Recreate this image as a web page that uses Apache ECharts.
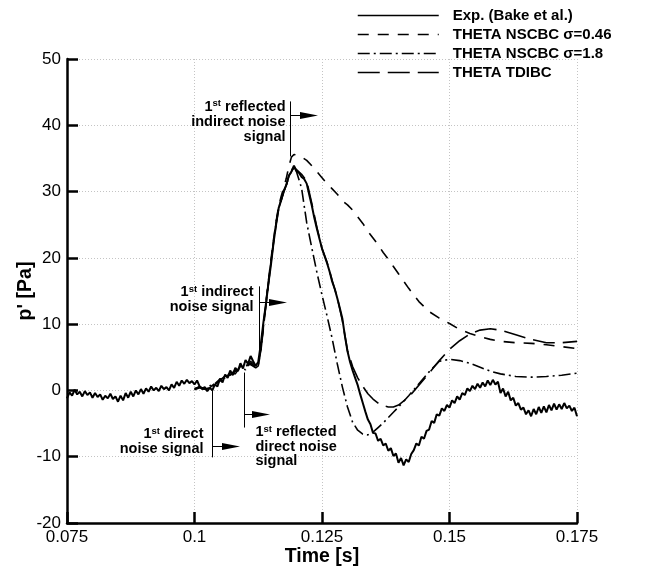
<!DOCTYPE html>
<html><head><meta charset="utf-8">
<script src="https://cdn.jsdelivr.net/npm/echarts@6/dist/echarts.min.js"></script>
<style>html,body{margin:0;padding:0;background:#fff}#c{width:646px;height:574px}</style>
</head><body><div id="c"></div>
<script>
const seriesNames = ['Exp. (Bake et al.)', 'THETA NSCBC σ=0.46', 'THETA NSCBC σ=1.8', 'THETA TDIBC'];

// Experiment: uniformly sampled from 0.075 s every 0.0005 s
const expStart = 0.075, expStep = 0.0005;
const expValues = [
 -1.2,-0.3,-0.8,0.1,-0.6,-0.2,-0.9,-0.1,-0.7,-0.3,
 -1.1,-0.4,-1.0,-0.6,-1.4,-0.8,-1.2,-0.5,-1.3,-0.9,
 -1.7,-0.8,-1.5,-0.4,-1.1,-0.2,-0.9,0.0,-0.6,0.2,
 -0.5,0.3,-0.2,0.6,0.0,0.4,-0.1,0.7,0.2,0.5,
 0.0,0.9,0.4,1.3,0.7,1.5,1.0,1.6,1.1,1.4,
 0.9,1.5,0.6,0.2,0.5,-0.1,0.4,0.0,0.9,0.6,
 1.8,1.2,2.4,1.9,3.0,2.3,3.4,2.9,4.1,3.3,
 4.6,4.0,5.2,4.4,3.7,4.3,7.0,10.2,13.0,16.2,
 19.0,22.3,25.0,27.5,28.7,30.1,31.0,32.4,33.0,33.9,
 33.1,32.8,32.2,31.9,31.2,29.5,27.9,26.0,24.4,22.9,
 21.4,20.3,19.2,17.9,16.4,15.3,13.9,12.4,10.8,8.2,
 5.9,4.3,3.0,1.9,0.8,-0.6,-1.9,-3.2,-4.4,-5.1,
 -6.4,-6.5,-7.6,-7.3,-8.3,-8.0,-9.1,-8.7,-9.9,-9.5,
 -10.9,-10.2,-11.3,-10.4,-10.8,-9.6,-9.0,-8.0,-8.3,-7.0,
 -7.3,-6.1,-5.9,-4.6,-4.9,-3.6,-3.8,-2.7,-3.1,-2.2,
 -2.6,-1.5,-1.9,-0.9,-1.4,-0.4,-0.7,0.3,-0.1,0.7,
 0.2,1.0,0.4,1.2,0.6,1.5,0.8,1.6,0.9,1.3,
 -0.4,0.3,-0.9,-0.2,-1.5,-1.1,-2.3,-1.9,-2.9,-2.6,
 -3.6,-3.0,-3.9,-2.8,-3.6,-2.5,-3.4,-2.4,-3.3,-2.2,
 -3.0,-2.0,-2.9,-2.1,-2.8,-1.9,-2.7,-2.3,-3.1,-2.6,
 -3.9
];

const simTime = [0.100,0.101,0.102,0.103,0.104,0.105,0.106,0.107,0.108,0.109,0.110,0.111,0.112,
 0.1125,0.113,0.1135,0.114,0.1145,0.115,0.1155,0.116,0.1165,0.117,0.1175,
 0.118,0.1185,0.119,0.1195,0.120,
 0.121,0.122,0.123,0.124,0.125,0.126,0.127,0.128,0.129,0.130,0.131,0.132,0.133,0.134,0.135,0.136,0.137,0.138,0.139,0.140,
 0.142,0.144,0.146,0.148,0.150,0.152,0.154,0.156,0.158,0.160,
 0.163,0.166,0.169,0.172,0.175];

const nscbc046 = [0.2,0.6,0.1,0.5,0.9,1.4,2.1,2.4,2.9,3.3,3.6,4.1,3.5,
 3.9,6.2,9.8,13.3,16.6,19.8,22.8,25.5,27.8,29.3,30.6,
 32.0,33.8,35.2,35.6,35.5,
 35.2,34.7,33.9,33.0,32.1,31.2,30.4,29.6,28.6,28.0,27.2,26.2,25.2,24.0,23.0,22.0,20.8,19.8,18.7,17.6,
 15.4,13.4,11.9,10.9,10.1,9.2,8.6,8.1,7.7,7.4,
 7.2,7.1,6.9,6.6,6.3];

const nscbc18 = [0.3,0.5,0.3,0.7,1.0,1.7,1.9,2.7,2.5,3.6,3.1,4.4,3.7,
 3.8,6.0,9.5,13.0,16.3,19.5,22.5,25.3,27.5,28.8,30.0,
 31.0,32.3,33.2,33.7,33.0,
 30.5,25.3,21.5,17.8,14.4,11.2,7.8,4.0,0.5,-2.5,-4.8,-6.0,-6.6,-6.7,-6.3,-5.6,-4.9,-4.1,-3.3,-2.5,
 -0.8,1.0,2.8,4.4,4.7,4.5,4.1,3.5,2.9,2.5,
 2.1,2.0,2.1,2.3,2.6];

const tdibc = [0.1,0.4,0.2,0.4,1.1,1.5,2.2,2.3,3.1,3.2,3.8,3.9,3.4,
 3.7,5.8,9.3,12.8,16.1,19.3,22.3,25.1,27.4,28.7,29.9,
 31.0,32.2,33.0,33.6,33.3,
 32.6,31.6,28.2,24.6,21.4,19.3,16.6,14.0,10.5,6.0,3.6,1.9,0.6,-0.5,-1.3,-1.9,-2.3,-2.5,-2.5,-2.2,
 -1.0,0.8,2.6,4.5,6.2,7.5,8.5,9.1,9.3,9.1,
 8.4,7.7,7.2,7.2,7.4];

// annotation anchors (data coordinates)
const annotations = [
 {t:0.11873, yTop:43.6, yBottom:35.3, yArrow:41.5, tArrow:0.12422, yText:42.8, side:'right', dx:-5, lh:15,
  lines:['1{s|st} reflected','indirect noise','signal']},
 {t:0.11265, yTop:15.7, yBottom:4.7, yArrow:13.4, tArrow:0.11814, yText:14.8, side:'right', dx:-6, lh:15,
  lines:['1{s|st} indirect','noise signal']},
 {t:0.10343, yTop:0.15, yBottom:-10.1, yArrow:-8.45, tArrow:0.10892, yText:-6.6, side:'right', dx:-9, lh:14.5,
  lines:['1{s|st} direct','noise signal']},
 {t:0.1097, yTop:2.7, yBottom:-5.6, yArrow:-3.6, tArrow:0.1148, yText:-6.3, side:'left', dx:11, lh:14.5,
  lines:['1{s|st} reflected','direct noise','signal']}
];

const FONT = '"Liberation Sans", Arial, Helvetica, sans-serif';
const expTime = expValues.map((_, i) => +(expStart + i * expStep).toFixed(4));
const pairs = (xs, ys) => ys.map((v, i) => [xs[i], v]);

const chart = echarts.init(document.getElementById('c'), null, {renderer: 'canvas'});
const axisCommon = {
  type: 'value',
  nameLocation: 'middle',
  nameMoveOverlap: false,
  nameTextStyle: {fontSize: 19.5, fontWeight: 'bold', color: '#000', fontFamily: FONT},
  axisLine: {show: true, onZero: false, lineStyle: {color: '#000', width: 2.5}},
  axisTick: {show: true, inside: true, length: 11, lineStyle: {color: '#000', width: 2.5}},
  splitLine: {show: true, lineStyle: {color: '#c4c4c4', width: 1, type: [1, 2]}},
  minorTick: {show: false}
};
chart.setOption({
  animation: false,
  backgroundColor: '#fff',
  grid: {left: 67, right: 69, top: 59, bottom: 51, containLabel: false, outerBoundsMode: 'none'},
  xAxis: Object.assign({}, axisCommon, {
    min: 0.075, max: 0.175, interval: 0.025, name: 'Time [s]', nameGap: 24,
    axisLabel: {margin: 6, fontSize: 17, color: '#000', fontFamily: FONT, showMinLabel: true, showMaxLabel: true,
      formatter: v => String(parseFloat(v.toFixed(3)))}
  }),
  yAxis: Object.assign({}, axisCommon, {
    min: -20, max: 50, interval: 10, name: "p' [Pa]", nameGap: 31,
    axisLabel: {margin: 6, fontSize: 17, color: '#000', fontFamily: FONT}
  }),
  legend: {
    orient: 'vertical', left: 357, top: 8, padding: 0, itemWidth: 81, itemHeight: 12, itemGap: 4,
    textStyle: {fontSize: 15, fontWeight: 'bold', color: '#000', fontFamily: FONT, padding: [0, 0, 0, 9]},
    lineStyle: {width: 1.5},
    itemStyle: {opacity: 0},
    data: seriesNames
  },
  series: [
    {name: seriesNames[0], type: 'line', symbol: 'none', z: 5, data: pairs(expTime, expValues),
     itemStyle: {color: '#000'}, lineStyle: {color: '#000', width: 2}},
    {name: seriesNames[1], type: 'line', symbol: 'none', data: pairs(simTime, nscbc046),
     itemStyle: {color: '#000'}, lineStyle: {color: '#000', width: 1.6, type: [11, 9]}},
    {name: seriesNames[2], type: 'line', symbol: 'none', data: pairs(simTime, nscbc18),
     itemStyle: {color: '#000'}, lineStyle: {color: '#000', width: 1.6, type: [12, 4, 2, 4]}},
    {name: seriesNames[3], type: 'line', symbol: 'none', data: pairs(simTime, tdibc),
     itemStyle: {color: '#000'}, lineStyle: {color: '#000', width: 1.6, type: [22, 8]}}
  ]
});

const px = (t, v) => chart.convertToPixel({gridIndex: 0}, [t, v]);
const g = [];
annotations.forEach(a => {
  const top = px(a.t, a.yTop), bot = px(a.t, a.yBottom), arr = px(a.t, a.yArrow), end = px(a.tArrow, a.yArrow);
  const x = Math.round(top[0]) + 0.5;
  const ay = Math.round(arr[1]) + 0.5;
  const headLen = 18, half = 3.5;
  g.push({type: 'line', silent: true, shape: {x1: x, y1: top[1], x2: x, y2: bot[1]}, style: {stroke: '#000', lineWidth: 1}});
  g.push({type: 'line', silent: true, shape: {x1: x, y1: ay, x2: end[0] - headLen + 1, y2: ay}, style: {stroke: '#000', lineWidth: 1}});
  g.push({type: 'polygon', silent: true, shape: {points: [[end[0] - headLen, ay - half], [end[0], ay], [end[0] - headLen, ay + half]]}, style: {fill: '#000'}});
  const tp = px(a.t, a.yText);
  a.lines.forEach((ln, i) => {
    g.push({type: 'text', silent: true, x: x + a.dx, y: tp[1] + i * a.lh,
      style: {text: ln, align: a.side, verticalAlign: 'middle', fontSize: 14.5, fontWeight: 'bold', fontFamily: FONT,
        fill: '#000', lineHeight: 16,
        rich: {s: {fontSize: 9.5, fontWeight: 'bold', fontFamily: FONT, verticalAlign: 'top', lineHeight: 10, fill: '#000'}}}});
  });
});
chart.setOption({graphic: g});
</script>
</body></html>
